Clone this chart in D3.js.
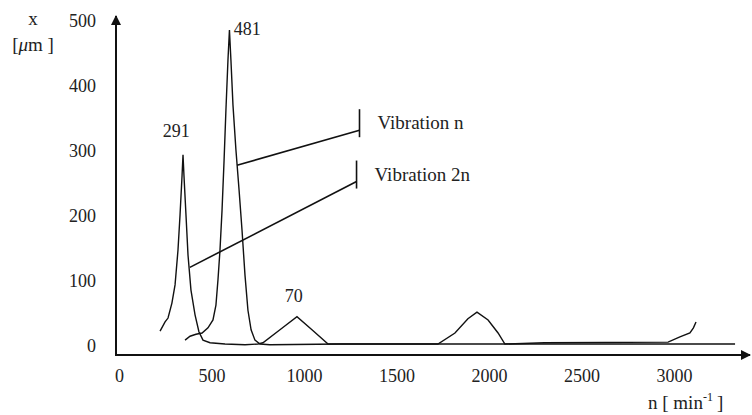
<!DOCTYPE html>
<html><head><meta charset="utf-8">
<script src="https://cdn.jsdelivr.net/npm/d3@7"></script>
<style>
html,body{margin:0;padding:0;background:#fff;}
svg text{font-family:"Liberation Serif","Times New Roman",serif;fill:#222;}
</style></head>
<body><svg id="c" width="752" height="415"></svg>
<script>
// ---- data ----
const xTicks = [0, 500, 1000, 1500, 2000, 2500, 3000];
const yTicks = [0, 100, 200, 300, 400, 500];

// Vibration 2n (peak 291 and peak 70)
const vib2nRpm = [222, 249, 265, 286, 303, 319, 330, 341, 346, 351, 362, 373, 389, 411, 432, 454, 492, 573, 681, 751, 778, 870, 962, 1043, 1130, 1222, 1300, 1700, 2500, 3330];
const vib2nVal = [23, 37, 43, 66, 94, 148, 202, 263, 294, 263, 202, 140, 86, 48, 22, 9, 5, 3, 2, 3, 5, 25, 45, 25, 3, 3, 3, 3, 3, 3];

// Vibration n (peak 481, peak near 1900, rise near 3100)
const vibNRpm = [357, 384, 416, 449, 481, 508, 524, 535, 546, 557, 568, 578, 589, 597, 605, 616, 632, 649, 665, 681, 697, 714, 735, 762, 816, 1200, 1724, 1816, 1886, 1935, 1995, 2049, 2086, 2300, 2968, 3032, 3086, 3105, 3119];
const vibNVal = [9, 15, 18, 20, 28, 40, 63, 102, 148, 209, 286, 363, 440, 486, 440, 371, 302, 240, 178, 109, 55, 25, 9, 3, 2, 3, 3, 20, 42, 52, 40, 20, 3, 5, 6, 14, 20, 28, 37];

// peak labels [rpm, value, text]
const peakLabels = [[310, 322, "291"], [620, 478, "481"], [945, 68, "70"]];
// legend leaders: from curve point to tick, in data units
const legendNames = ["Vibration n", "Vibration 2n"];
const legendFrom = [[638, 278], [383, 121]];
const legendTo = [[1300, 332], [1284, 253]];

// ---- scales ----
const svg = d3.select("#c");
const x = d3.scaleLinear().domain([0, 3400]).range([119, 748]);
const y = d3.scaleLinear().domain([0, 500]).range([346, 21]);
const axisY = 355, axisX = 116;

// axes lines with arrows
svg.append("defs").append("marker").attr("id", "arr")
  .attr("viewBox", "0 0 10 10").attr("refX", 9).attr("refY", 5)
  .attr("markerWidth", 5).attr("markerHeight", 5).attr("orient", "auto")
  .append("path").attr("d", "M0,0 L10,5 L0,10 Z").attr("fill", "#111");

svg.append("line").attr("x1", axisX).attr("y1", axisY).attr("x2", 750).attr("y2", axisY)
  .attr("stroke", "#111").attr("stroke-width", 2).attr("marker-end", "url(#arr)");
svg.append("line").attr("x1", axisX).attr("y1", axisY + 1).attr("x2", axisX).attr("y2", 16)
  .attr("stroke", "#111").attr("stroke-width", 2).attr("marker-end", "url(#arr)");

// tick labels via d3 axes (no lines)
const gx = svg.append("g").attr("transform", `translate(0,${axisY + 11})`)
  .call(d3.axisBottom(x).tickValues(xTicks).tickSize(0).tickFormat(d3.format("d")));
gx.select(".domain").remove();
gx.selectAll("text").attr("font-size", 18).attr("fill", "#222")
  .style("font-family", '"Liberation Serif",serif');

const gy = svg.append("g").attr("transform", `translate(96,0)`)
  .call(d3.axisLeft(y).tickValues(yTicks).tickSize(0).tickPadding(0).tickFormat(d3.format("d")));
gy.select(".domain").remove();
gy.selectAll("text").attr("font-size", 18).attr("fill", "#222")
  .style("font-family", '"Liberation Serif",serif');

// curves
const line = d3.line().x(d => x(d[0])).y(d => y(d[1])).curve(d3.curveLinear);
svg.append("path").datum(vib2nRpm.map((r, i) => [r, vib2nVal[i]]))
  .attr("d", line).attr("fill", "none").attr("stroke", "#111").attr("stroke-width", 1.4);
svg.append("path").datum(vibNRpm.map((r, i) => [r, vibNVal[i]]))
  .attr("d", line).attr("fill", "none").attr("stroke", "#111").attr("stroke-width", 1.4);

// peak labels
peakLabels.forEach(p => {
  svg.append("text").attr("x", x(p[0])).attr("y", y(p[1])).attr("font-size", 18)
    .attr("text-anchor", p[2] === "481" ? "start" : "middle").text(p[2]);
});

// legend leaders
legendNames.forEach((name, i) => {
  const f = legendFrom[i], t = legendTo[i];
  const tx = x(t[0]), ty = y(t[1]);
  svg.append("line").attr("x1", x(f[0])).attr("y1", y(f[1])).attr("x2", tx).attr("y2", ty)
    .attr("stroke", "#111").attr("stroke-width", 1.6);
  svg.append("line").attr("x1", tx).attr("y1", ty - 21).attr("x2", tx).attr("y2", ty + 7)
    .attr("stroke", "#111").attr("stroke-width", 1.6);
  svg.append("text").attr("x", tx + 18).attr("y", ty - 1).attr("font-size", 19).text(name);
});

// axis titles
svg.append("text").attr("x", 33).attr("y", 25).attr("font-size", 19).attr("text-anchor", "middle").text("x");
const yt = svg.append("text").attr("x", 33).attr("y", 51).attr("font-size", 19).attr("text-anchor", "middle");
yt.append("tspan").text("[");
yt.append("tspan").attr("font-style", "italic").text("μ");
yt.append("tspan").text("m ]");
const xt = svg.append("text").attr("x", 648).attr("y", 409).attr("font-size", 19);
xt.append("tspan").text("n [ min");
xt.append("tspan").attr("dy", -8).attr("font-size", 12).text("-1");
xt.append("tspan").attr("dy", 8).attr("dx", 4).text("]");
</script></body></html>
